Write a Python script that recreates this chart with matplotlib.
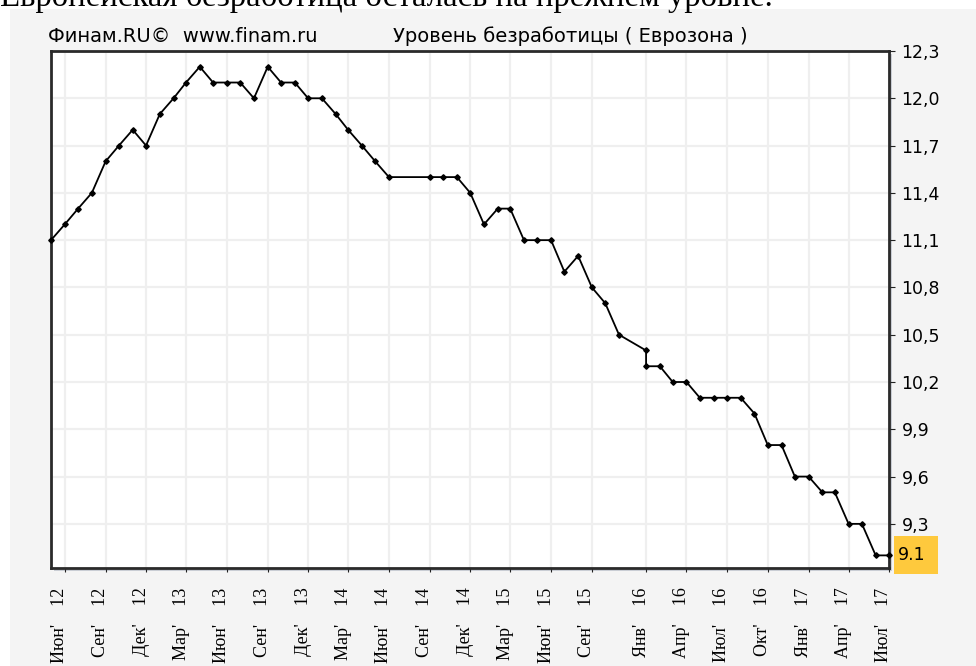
import matplotlib
matplotlib.use("Agg")
import matplotlib.pyplot as plt
import matplotlib.dates as mdates
import matplotlib.transforms as mtransforms
from matplotlib.patches import Rectangle
import pandas as pd

# ---------------- data ----------------
months = [
    "2012-05", "2012-06", "2012-07", "2012-08", "2012-09", "2012-10", "2012-11", "2012-12",
    "2013-01", "2013-02", "2013-03", "2013-04", "2013-05", "2013-06",
    "2013-07", "2013-08", "2013-09", "2013-10", "2013-11", "2013-12",
    "2014-01", "2014-02", "2014-03", "2014-04", "2014-05", "2014-06",
    "2014-09", "2014-10", "2014-11", "2014-12",
    "2015-01", "2015-02", "2015-03", "2015-04", "2015-05", "2015-06",
    "2015-07", "2015-08", "2015-09", "2015-10", "2015-11",
    "2016-01", "2016-01", "2016-02", "2016-03", "2016-04", "2016-05", "2016-06",
    "2016-07", "2016-08", "2016-09", "2016-10", "2016-11", "2016-12",
    "2017-01", "2017-02", "2017-03", "2017-04", "2017-05", "2017-06", "2017-07",
]
values = [
    11.1, 11.2, 11.3, 11.4, 11.6, 11.7, 11.8, 11.7,
    11.9, 12.0, 12.1, 12.2, 12.1, 12.1,
    12.1, 12.0, 12.2, 12.1, 12.1, 12.0,
    12.0, 11.9, 11.8, 11.7, 11.6, 11.5,
    11.5, 11.5, 11.5, 11.4,
    11.2, 11.3, 11.3, 11.1, 11.1, 11.1,
    10.9, 11.0, 10.8, 10.7, 10.5,
    10.4, 10.3, 10.3, 10.2, 10.2, 10.1, 10.1,
    10.1, 10.1, 10.0, 9.8, 9.8, 9.6,
    9.6, 9.5, 9.5, 9.3, 9.3, 9.1, 9.1,
]
tick_months = [
    "2012-06", "2012-09", "2012-12", "2013-03", "2013-06", "2013-09", "2013-12",
    "2014-03", "2014-06", "2014-09", "2014-12", "2015-03", "2015-06", "2015-09",
    "2016-01", "2016-04", "2016-07", "2016-10", "2017-01", "2017-04", "2017-07",
]
tick_labels = [
    "Июн'    12", "Сен'    12", "Дек'    12", "Мар'    13", "Июн'    13", "Сен'    13",
    "Дек'    13", "Мар'    14", "Июн'    14", "Сен'    14", "Дек'    14", "Мар'    15",
    "Июн'    15", "Сен'    15", "Янв'    16", "Апр'    16", "Июл'    16", "Окт'    16",
    "Янв'    17", "Апр'    17", "Июл'    17",
]
y_ticks = [9.3, 9.6, 9.9, 10.2, 10.5, 10.8, 11.1, 11.4, 11.7, 12.0, 12.3]
y_tick_labels = ["9,3", "9,6", "9,9", "10,2", "10,5", "10,8", "11,1", "11,4", "11,7", "12,0", "12,3"]
page_title = "Европейская безработица осталась на прежнем уровне."
source_text = "Финам.RU©  www.finam.ru"
chart_title = "Уровень безработицы ( Еврозона )"

# ---------------- figure ----------------
plt.rcParams["font.family"] = ["DejaVu Sans"]
W, H = 976, 666
fig = plt.figure(figsize=(W / 100, H / 100), dpi=100, facecolor="white")

# grey panel
fig.patches.append(Rectangle((10 / W, 0), 1, (H - 9) / H, transform=fig.transFigure,
                             facecolor="#f4f4f4", edgecolor="none", zorder=-3))

left, right, top, bottom = 51, 889, 51, 568
ax_rect = [left / W, 1 - bottom / H, (right - left) / W, (bottom - top) / H]

# subtle shadow of the plot frame
fig.patches.append(Rectangle((ax_rect[0] + 3 / W, ax_rect[1] - 3 / H), ax_rect[2], ax_rect[3],
                             transform=fig.transFigure, facecolor="#c9cdd4",
                             edgecolor="none", zorder=-2))

ax = fig.add_axes(ax_rect)
ax.set_facecolor("white")

x = pd.to_datetime(months)
ax.plot(x, values, color="black", lw=1.3, marker="D", ms=2.8, mfc="black", mec="black",
        zorder=3, clip_on=False)

ax.set_xlim(x[0], x[-1])
ax.set_ylim(9.02, 12.3)

ax.set_xticks(pd.to_datetime(tick_months))
ax.set_xticklabels(tick_labels, rotation=90, family="Liberation Serif", fontsize=13)
ax.tick_params(axis="x", length=3, pad=11, colors="#222222")
offset = mtransforms.ScaledTranslation(-5 / 100, 0, fig.dpi_scale_trans)
for lab in ax.get_xticklabels():
    lab.set_transform(lab.get_transform() + offset)
    lab.set_color("black")

ax.yaxis.tick_right()
ax.set_yticks(y_ticks)
ax.set_yticklabels(y_tick_labels, fontsize=12.5)
ax.tick_params(axis="y", length=4, pad=5, colors="#222222")
for lab in ax.get_yticklabels():
    lab.set_color("black")

ax.grid(True, color="#efefef", lw=1.6)
ax.set_axisbelow(True)
for s in ax.spines.values():
    s.set_color("#2a2a2a")
    s.set_linewidth(2)

# highlighted last value on the right
fig.canvas.draw()
px, py = ax.transData.transform((mdates.date2num(x[-1]), values[-1]))
bx0, bx1 = right + 5, right + 49
fig.patches.append(Rectangle((bx0 / W, (py - 19) / H), (bx1 - bx0) / W, 38 / H,
                             transform=fig.transFigure, facecolor="#fec93d",
                             edgecolor="none", zorder=-1))
ax.annotate(f"{values[-1]:.1f}", xy=(1, values[-1]), xycoords=("axes fraction", "data"),
            xytext=(9, 0), textcoords="offset pixels", va="center", ha="left",
            fontsize=12.5, color="black", annotation_clip=False, zorder=5)

# header texts
fig.text(48 / W, 1 - 36 / H, source_text, fontsize=14, va="center", ha="left", color="black")
fig.text(393 / W, 1 - 36 / H, chart_title, fontsize=14, va="center", ha="left", color="black")

# cropped page heading above the chart
fig.text(0.5 / W, 1 - 6 / H, page_title, family="Liberation Serif", fontsize=23.6,
         va="baseline", ha="left", color="black")

fig.savefig("out.png", dpi=100, facecolor=fig.get_facecolor())
